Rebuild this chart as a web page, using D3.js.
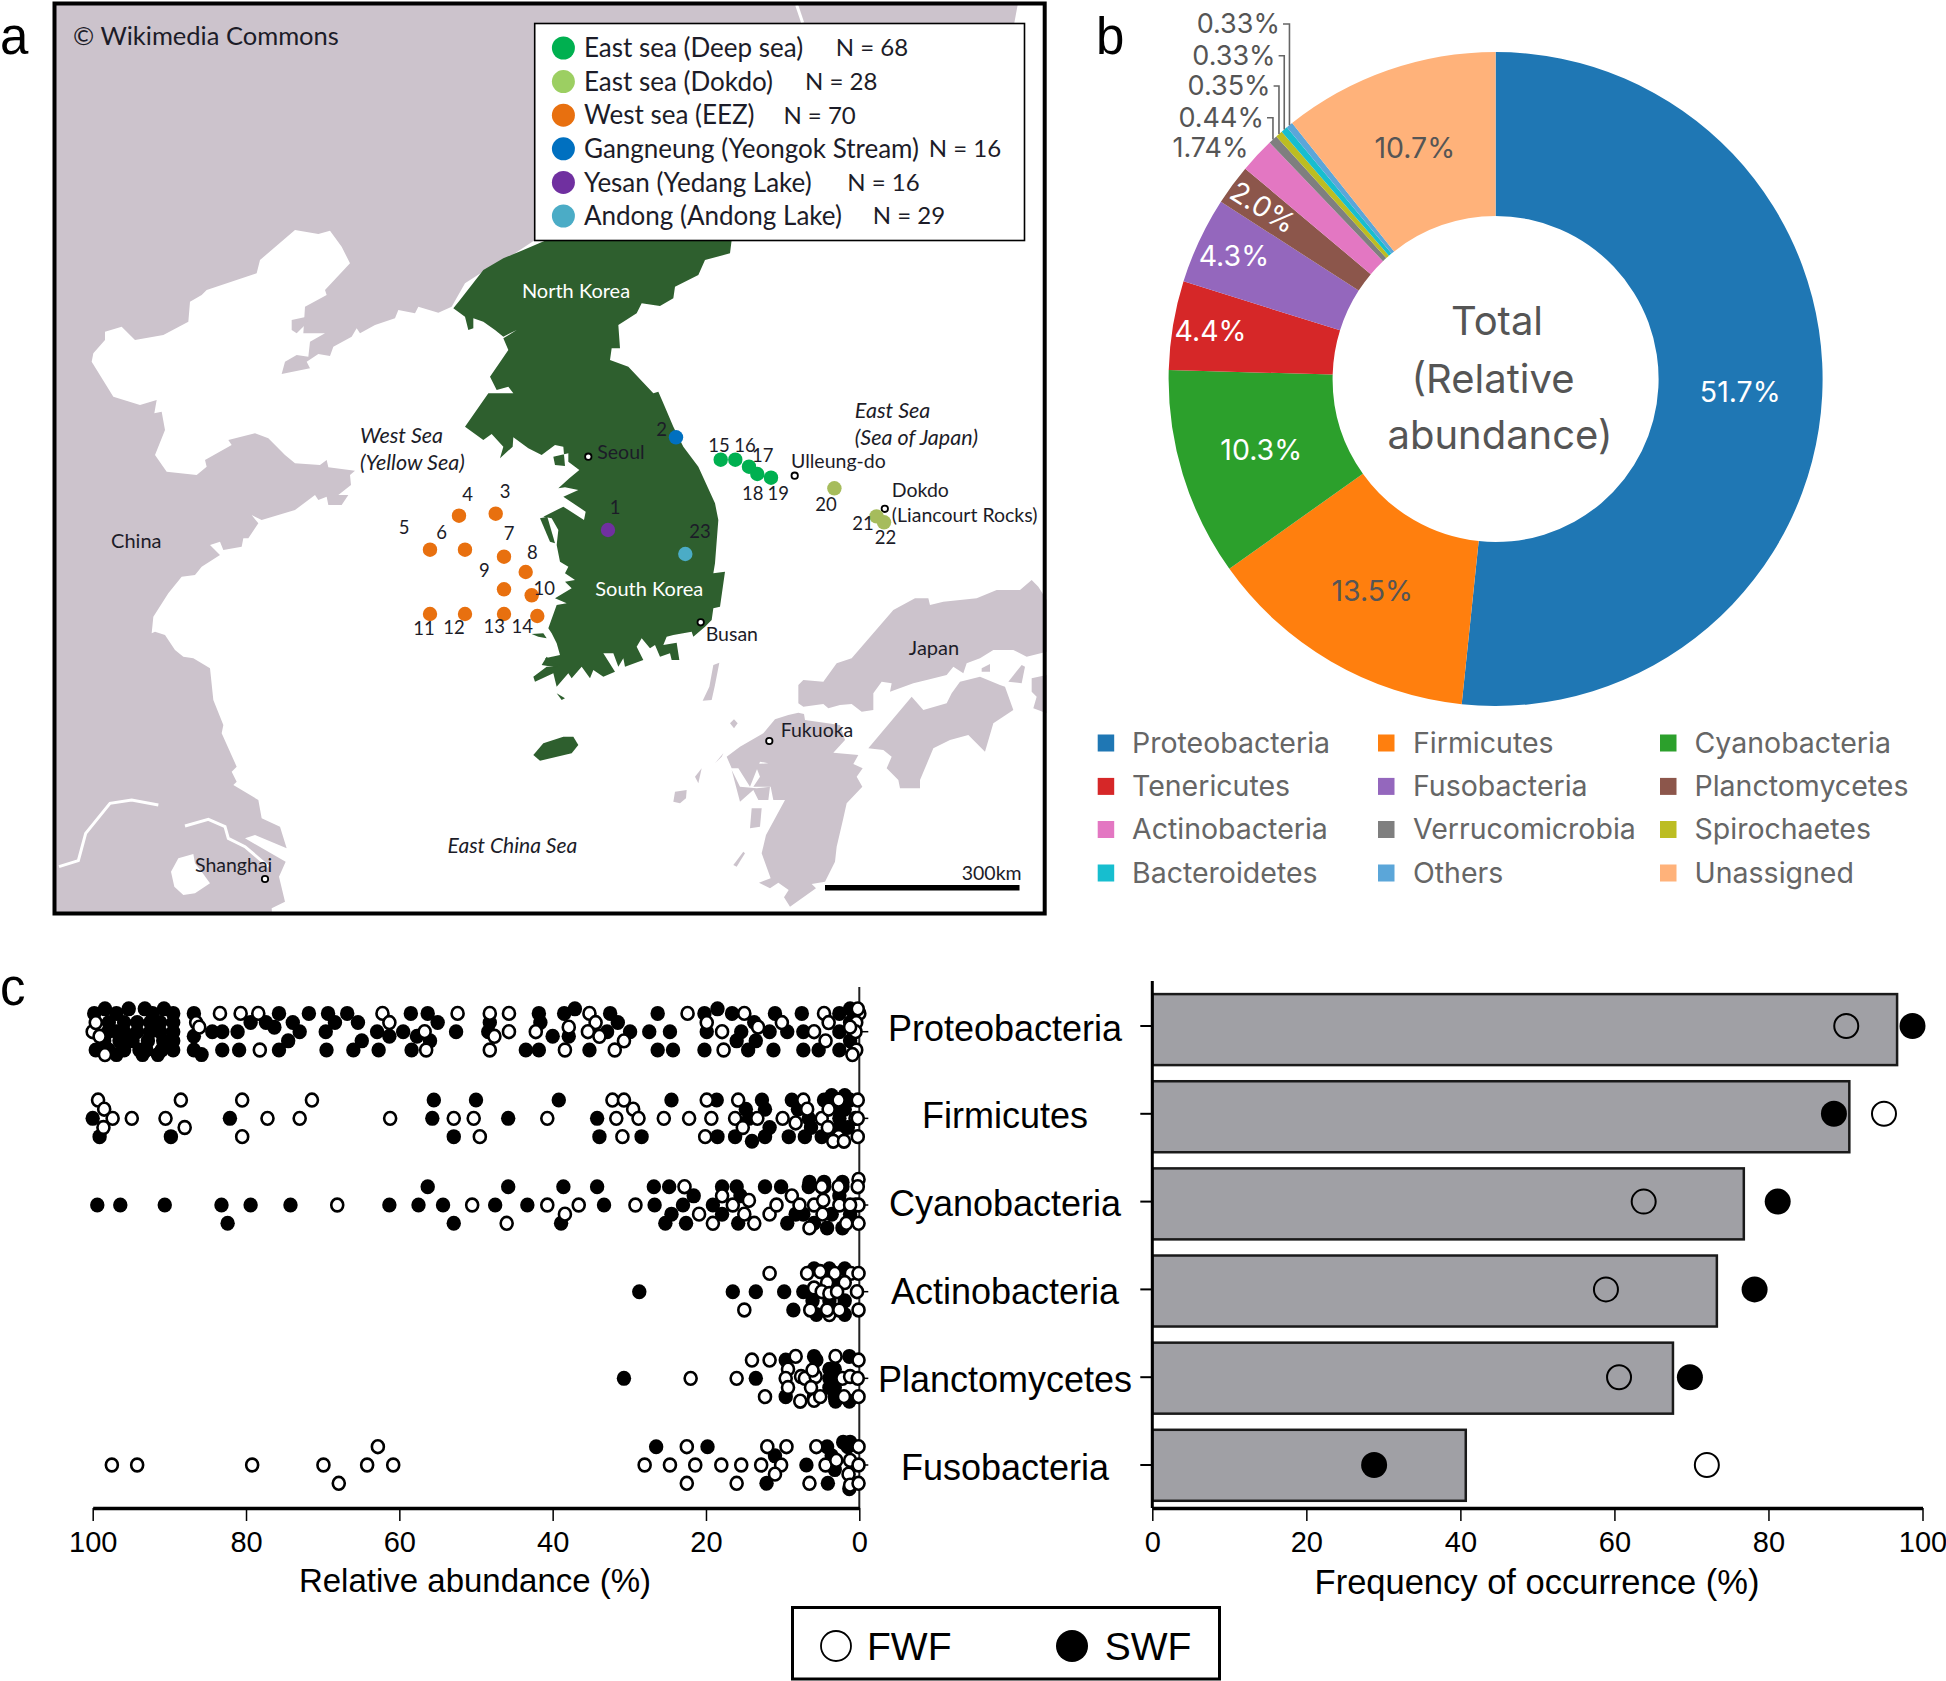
<!DOCTYPE html>
<html>
<head>
<meta charset="utf-8">
<title>Microbial communities of Korean seawater and freshwater fish</title>
<script src="https://cdn.jsdelivr.net/npm/d3@7"></script>
<style>
    html, body { margin: 0; padding: 0; background: #ffffff; }
    svg { display: block; }
    .map text { font-family: Lato, "Noto Sans", sans-serif; fill: #1c1c28; }
    .donut text { font-family: Inter, Roboto, sans-serif; font-weight: 400; }
    .plots text { font-family: "Liberation Sans", Arial, sans-serif; fill: #000000; }
    .tag { font-family: "Liberation Sans", Arial, sans-serif; font-size: 51px; fill: #000000; }
</style>
</head>
<body>
<div id="chart"></div>
<script>
//panel a: legend groups and sampling sites
var groupNames = ['East sea (Deep sea)', 'East sea (Dokdo)', 'West sea (EEZ)', 'Gangneung (Yeongok Stream)', 'Yesan (Yedang Lake)', 'Andong (Andong Lake)'];
var groupCounts = ['N = 68', 'N = 28', 'N = 70', 'N = 16', 'N = 16', 'N = 29'];
var groupColors = ['#00b050', '#9ccf62', '#e8700f', '#0070c0', '#7030a0', '#4bacc6'];
var siteColors = ['#00b050', '#a6bc5c', '#e8700f', '#0070c0', '#7030a0', '#4bacc6'];
var groupCountX = [835.7, 805, 783.4, 928.8, 847.2, 872.7];

//[site number, group index, x, y] in picture pixels of the base map
var sites = [
    ['1', 4, 608, 530], ['2', 3, 676, 437.3], ['3', 2, 495.7, 513.7], ['4', 2, 459, 515.7],
    ['5', 2, 430, 549.7], ['6', 2, 465, 549.7], ['7', 2, 504, 556.7], ['8', 2, 525.7, 572],
    ['9', 2, 504, 589.3], ['10', 2, 531.7, 595.3], ['11', 2, 430, 614], ['12', 2, 465, 614],
    ['13', 2, 504, 614], ['14', 2, 537.3, 616], ['15', 0, 720.7, 459.7], ['16', 0, 735.3, 459.7],
    ['17', 0, 749, 466.7], ['18', 0, 757.3, 474], ['19', 0, 771, 477.7], ['20', 1, 834.4, 488.3],
    ['21', 1, 876.5, 516.4], ['22', 1, 884, 522.3], ['23', 5, 685.3, 554]
];
var siteLabels = [
    ['1', 615, 507.3], ['2', 661.7, 430], ['3', 505, 491.7], ['4', 467.7, 495], ['5', 404, 528],
    ['6', 441.7, 532.7], ['7', 509, 534], ['8', 532.3, 552.3], ['9', 484.3, 570.7], ['10', 544.3, 588.3],
    ['11', 424, 629], ['12', 454, 627.7], ['13', 494.3, 626.7], ['14', 522.3, 626.7], ['15', 719, 446],
    ['16', 745, 446], ['17', 762.7, 455.3], ['18', 752.7, 494], ['19', 778.3, 494], ['20', 826, 504.7],
    ['21', 863, 524], ['22', 885.4, 538], ['23', 700, 531.7]
];
var cities = [
    ['Seoul', 588.3, 456.7, 597.3, 451.7], ['Ulleung-do', 794.7, 475.7, 791, 460.7],
    ['Dokdo', 884.8, 508.8, 891.8, 490], ['Busan', 700.7, 622.3, 705.7, 634],
    ['Fukuoka', 769.3, 741, 780.7, 730], ['Shanghai', 265, 879, 195, 865]
];

//panel b
var phyla = ['Proteobacteria', 'Firmicutes', 'Cyanobacteria', 'Tenericutes', 'Fusobacteria', 'Planctomycetes', 'Actinobacteria', 'Verrucomicrobia', 'Spirochaetes', 'Bacteroidetes', 'Others', 'Unassigned'];
var relAbundance = [51.7, 13.5, 10.3, 4.4, 4.3, 2.0, 1.74, 0.44, 0.35, 0.33, 0.33, 10.7];
var pctLabels = ['51.7%', '13.5%', '10.3%', '4.4%', '4.3%', '2.0%', '1.74%', '0.44%', '0.35%', '0.33%', '0.33%', '10.7%'];
var phylaColors = ['#1f77b4', '#ff7f0e', '#2ca02c', '#d62728', '#9467bd', '#8c564b', '#e377c2', '#7f7f7f', '#bcbd22', '#17becf', '#5ba6d9', '#ffb27a'];

//panel c
var topPhyla = ['Proteobacteria', 'Firmicutes', 'Cyanobacteria', 'Actinobacteria', 'Planctomycetes', 'Fusobacteria'];
var occurrence = [96.7, 90.5, 76.8, 73.3, 67.6, 40.7];
var occurrenceFWF = [90.1, 95, 63.8, 58.9, 60.6, 72];
var occurrenceSWF = [98.7, 88.5, 81.2, 78.2, 69.8, 28.8];
var xTicks = [0, 20, 40, 60, 80, 100];

//single samples: [relative abundance %, swarm lane]
var proteoSWF = [[99.8,1],[98.4,1.25],[96.9,1],[95.3,1.25],[93.2,1.25],[92.2,1],[90.7,1.25],[89.5,1],
    [97.9,.5],[95.9,.5],[94.2,.5],[92.5,.5],[91.2,.5],[89.5,.5],[98,0],[96.9,0],[95.9,0],[94.2,0],[92.5,0],[91.2,0],[89.5,0],
    [98.5,-.5],[96.5,-.5],[94.8,-.5],[92.8,-.5],[90.8,-.5],[89.5,-.5],[99.6,-1],[97.9,-1],[95.9,-1],[93.9,-1],[93,-1],[91,-1],[89.5,-1],
    [96.9,-1.25],[93.5,-1.25],[91.5,-1.25],[86.8,1],[84.4,0],[86.8,-.25],[86.8,-1],[85.8,-1.25],[83.1,0],[83.1,-1],[81.1,0],[80.9,-1],
    [79.4,.5],[77.4,.5],[76.3,.25],[75.7,1],[75.7,-1],[74.5,-.5],[73.9,.5],[73,0],[71.8,1],[69.6,0],[69.5,-1],[69.3,1],[68.4,.5],
    [66.8,1],[66,-1],[65.4,.5],[64.9,-.5],[62.9,0],[62.7,-1],[61.3,-.25],[59.5,0],[58.5,1],[58.4,-1],[57.7,-.25],[56.3,1],[56,-.5],[55,.5],
    [52.6,0],[48.2,.5],[48.4,0],[41.8,1],[41.6,.5],[43.5,-1],[41.8,-1],[40,-.25],[38.5,1],[37.1,1.25],[37.9,-.25],[35.2,-1],[32.5,1],[31.5,.5],
    [32.9,0],[29.9,0],[27.4,0],[26.3,1],[24.7,0],[26.3,-1],[24.3,-1],[20.2,1],[19.9,0],[20.2,-1],[18.5,1.25],[16.6,1],[15.4,0],[16,-.5],
    [14.5,-1],[13.7,.5],[13.5,-.5],[11.7,0],[11,1],[11.2,-1],[9.4,0],[7.5,1],[7.3,0],[7.3,-1],[5.3,-1],[2.6,1],[1.2,1.25],[2.6,0],[2.6,-1],[1.2,.5],[1.2,-.5]];
var proteoFWF = [[100,0],[99.1,-.25],[99.6,.5],[98.4,-1.25],[86.5,.5],[86.1,.25],[83.4,1],[80.7,1],[78.4,1],[78.2,-1],[62.2,1],[61.3,.5],[56.7,0],[56.5,-1],
    [52.4,1],[48.2,1],[45.7,1],[48.2,-1],[47.6,-.25],[45.7,0],[42.2,0],[38.4,-1],[37.9,.25],[35.2,1],[34.4,.5],[35.4,0],[33.9,-.25],[31.9,-1],[30.7,-.5],
    [22.4,1],[19.9,.5],[17.9,0],[17.7,-1],[15,1],[13.2,.25],[10.1,.5],[5.9,0],[4.4,-.5],[4.6,1],[4,.5],[0,1],[.4,.5],[.5,0],[1.2,.25],[.4,-1],[.9,-1.25],[.2,1.25]];
var firmiSWF = [[100,0],[99.1,-1],[89.8,-1],[82.1,0],[55.5,1],[55.7,0],[52.9,-1],[50,1],[45.8,0],[39.2,1],[34.2,0],[33.9,-1],[28.4,-1],[24.5,1],[18.6,1],[18.5,-1],[16.2,-1],
    [14,-1.25],[12.7,1],[14.8,.5],[12.3,.5],[11.7,-.5],[12.3,-1],[14.4,0],[9.2,-1],[7.1,-1],[8.8,1],[6.3,-.5],[8,.5],[6.6,0],[4.9,-1],[4.6,1],[3.6,1.25],[1.9,1.25],[2.6,.5],[2.6,0],[1.9,.5],[2.6,-.5],[1.5,-.5],[1.2,1]];
var firmiFWF = [[99.3,1],[98.5,.5],[97.4,0],[94.9,0],[98.6,-.5],[88.5,1],[90.5,0],[88,-.5],[80.5,1],[77.2,0],[80.5,-1],[73,0],[71.4,1],[61.2,0],[52.9,0],[50.3,0],[49.5,-1],[40.7,0],
    [32.2,1],[30.7,1],[29.5,.5],[31.7,0],[28.8,0],[30.9,-1],[25.5,0],[22.2,0],[19.3,0],[19.9,1],[20.1,-1],[15.8,1],[16.2,0],[15.2,-.5],[13.3,0],[10,0],[8.3,-.25],[7.3,1],[6.8,.5],
    [4.9,0],[4.1,-.5],[4,.5],[2.7,1],[2.7,-1],[3.4,-1.25],[2,-1.25],[.2,1],[.5,0],[.2,-1],[.2,0]];
var cyanoSWF = [[99.4,0],[96.4,0],[90.6,0],[83.2,0],[82.4,-1],[79.4,0],[74.2,0],[61.3,0],[56.3,1],[57.5,0],[54.3,0],[52.9,-1],[47.5,0],[45.8,1],[43.3,0],[38.9,-1],[38.6,1],[34.2,1],[33.3,0],
    [26.8,1],[24.8,1],[26.7,0],[23,0],[21.6,.5],[24.5,-.5],[25.3,-1],[22.6,-1],[19.1,0],[17.9,1],[16,1],[15.5,.5],[17.9,-.5],[15.8,-1],[12.3,1],[10.2,1],[9.4,-1],[8.3,-.5],[7.3,-.5],
    [6.5,1.25],[4.6,1.25],[2.2,1.25],[6.6,1],[4.6,1],[2.2,1],[5.9,-1],[4.2,-1.25],[2.2,-1.25],[3.6,-.5],[1.2,-.5],[2.6,.5]];
var cyanoFWF = [[68.1,0],[50.5,0],[46,-1],[40.7,0],[38.4,-.5],[36.6,0],[29.2,0],[22.8,1],[20.9,-.5],[19.1,-1],[17.9,.5],[16.5,0],[14.4,.25],[15,-.5],[13.7,-1],[11.7,-.5],[10.8,0],[8.8,.5],
    [7.8,0],[6.5,-1.25],[5.9,0],[4.7,.25],[4.8,-.5],[4.9,1],[2.7,1],[2.6,0],[1.7,-1],[.1,1.4],[.2,1],[.5,0],[.1,0],[.1,-1],[1.2,0]];
var actinoSWF = [[28.7,0],[16.5,0],[13.5,0],[9.8,0],[8.6,-1],[7.3,0],[5.9,1.25],[3.9,1.25],[1.9,1.25],[6.1,-.5],[5.6,-1.25],[1.9,-1.25],[3.9,-.5],[1.9,-.5],[3.2,.5]];
var actinoFWF = [[11.7,1],[15,-1],[6.8,1],[5.1,1.1],[3.2,1],[1.1,1],[.1,1],[4.2,.5],[5.9,.2],[1.9,.5],[4.9,0],[3.9,-.1],[2.9,0],[.3,0],[6.4,-1],[3.9,-1.25],[4.2,-1],[2.6,-1],[.1,-1]];
var planctoSWF = [[30.7,0],[13.5,0],[9.6,1],[9.6,-1],[5.9,1.2],[5.6,1],[1.3,1.2],[3.9,.5],[3.9,0],[3.9,-.5],[3.2,.5],[3.2,0],[3.2,-.5],[3.1,-1.25],[1.3,-1.25],[3.2,-1],[5.9,-1]];
var planctoFWF = [[22,0],[16,0],[14,1],[11.7,1],[12.3,-1],[8.3,1.2],[9.3,.5],[9.6,0],[9.3,-.5],[7.6,.1],[7.1,0],[5.7,.1],[6.1,.45],[6.3,-.5],[7.7,-1.25],[5.9,-1.2],[5.1,-1],[3.1,1.2],[2,-1],[2.2,0],[1.2,.1],[.2,0],[.1,1],[.1,-1]];
var fusoSWF = [[26.5,1],[19.8,1],[11,.5],[12.1,-1],[6.9,0],[4.2,1],[3.6,.5],[3.2,-.25],[4.1,-1],[2.1,1.25],[1.2,1.25],[1.5,1],[1.3,-1.3]];
var fusoFWF = [[97.5,0],[94.2,0],[79.2,0],[69.9,0],[67.9,-1],[64.2,0],[62.8,1],[60.8,0],[28,0],[24.7,0],[22.5,1],[21.4,0],[22.5,-1],[18,0],[15.4,0],[16,-1],[12.8,0],[12,1],[10.2,0],[9.5,1],[11,-.5],
    [6.5,-1],[5.6,1],[4.4,0],[3,.25],[1.4,-.5],[1.2,.25],[1.2,-1.1],[.1,1],[.1,0],[.1,-1]];
var swarmSWF = [proteoSWF, firmiSWF, cyanoSWF, actinoSWF, planctoSWF, fusoSWF];
var swarmFWF = [proteoFWF, firmiFWF, cyanoFWF, actinoFWF, planctoFWF, fusoFWF];

//base map outlines, traced per crop of the map: crop(left, top, points at 3x)
function crop(left, top, points){
    return points.map(function(p){ return [left + p[0] / 3, top + p[1] / 3]; });
}
var seaOutline = [[1046, 3], [1046, 914], [272, 914]].concat(
    crop(55, 600, [[650,925],[690,905],[672,830],[692,785],[570,715],[600,705],[695,745],[675,680],[620,655],[610,600],[535,555],[545,545],[530,515],[545,500],[500,400],[505,375],[475,300],[465,205],[415,175],[385,170],[360,150],[330,105],[300,95]]),
    crop(55, 230, [[290,1210],[295,1160],[340,1090],[380,1040],[420,1035],[440,1010],[495,975],[465,945],[495,935],[505,960],[560,950],[565,925],[580,925],[610,880],[590,855],[620,870],[720,840],[780,795],[790,810],[815,800],[820,825],[860,825],[880,795],[850,795],[888,765],[885,735],[900,722],[820,712],[815,690],[795,705],[720,700],[690,675],[640,625],[600,610],[520,630],[530,645],[450,690],[455,710],[425,735],[335,725],[300,675],[330,600],[320,545],[298,550],[305,510],[255,525],[175,500],[110,395],[115,370],[150,330],[150,305],[200,290],[240,330],[325,315],[400,275],[405,215],[440,195],[455,180],[605,130],[615,90],[685,30],[720,0],[790,12],[825,2],[860,50],[885,100],[810,180],[815,195],[750,230],[745,310],[810,310],[765,335],[760,380],[725,375],[690,395],[680,432],[765,415],[755,395],[790,372],[825,378],[835,350],[890,320],[905,295],[915,310],[960,285],[1020,265],[1030,240],[1080,250],[1090,230],[1150,248],[1190,230],[1230,160],[1300,115],[1380,70],[1440,30]]),
    [[800, 239], [1013, 30], [1018, 3]]
);
var landShapes = [
    crop(55, 230, [[710,270],[755,260],[750,285],[725,310],[710,300]]),
    //honshu
    crop(660, 560, [[415,375],[430,360],[490,365],[530,310],[575,295],[700,150],[765,115],[805,115],[810,135],[850,125],[950,115],[1010,90],[1080,90],[1115,60],[1135,80],[1160,120],[1160,275],[1100,290],[1060,270],[1000,270],[960,295],[920,310],[910,340],[880,320],[860,345],[800,360],[760,370],[690,395],[695,370],[665,365],[640,400],[640,450],[605,455],[575,432],[540,435],[505,445],[490,432],[430,440],[415,430]]),
    //kyushu
    crop(660, 560, [[310,520],[345,478],[385,465],[415,458],[432,462],[435,480],[540,495],[555,540],[520,578],[595,585],[580,612],[608,625],[590,650],[607,680],[560,730],[550,775],[530,860],[525,905],[495,965],[455,972],[468,985],[390,1040],[372,1012],[386,990],[355,968],[330,985],[297,968],[332,955],[305,880],[318,825],[375,720],[340,720],[332,680],[280,680],[300,650],[285,612],[325,610],[300,605],[270,680],[235,625],[215,625],[200,590],[240,560]]),
    crop(660, 560, [[215,630],[240,680],[290,685],[330,680],[325,720],[295,720],[280,690],[240,725]]),
    crop(660, 560, [[275,745],[305,745],[300,800],[270,805]]),
    //shikoku and smaller islands
    crop(660, 560, [[625,565],[755,410],[790,450],[860,430],[875,400],[900,365],[960,350],[1020,375],[1035,380],[1060,450],[1000,490],[975,575],[925,525],[870,540],[820,565],[780,660],[780,685],[720,685],[715,660],[695,640],[680,625],[695,590],[670,570]]),
    crop(660, 560, [[1045,365],[1085,315],[1095,320],[1085,370]]),
    crop(660, 560, [[1115,355],[1160,345],[1160,460],[1120,445],[1130,410],[1115,395]]),
    crop(660, 560, [[965,325],[990,312],[990,335],[965,335]]),
    crop(660, 560, [[160,315],[178,308],[165,375],[155,420],[128,422],[148,380]]),
    crop(660, 560, [[210,490],[222,478],[233,490],[222,505]]),
    crop(660, 560, [[40,725],[45,695],[80,690],[78,715],[60,730]]),
    crop(660, 560, [[105,650],[125,625],[115,670]]),
    crop(660, 560, [[165,610],[190,580],[185,590]]),
    crop(660, 560, [[220,915],[250,875],[255,880],[230,920]])
];
var koreaShapes = [
    crop(440, 230, [[320,30],[875,30],[870,70],[795,90],[775,135],[705,170],[700,205],[660,228],[605,220],[590,250],[535,285],[540,355],[515,355],[510,390],[565,410],[640,490],[655,485],[670,520],[700,590],[730,650],[775,710],[825,820],[835,870]])
    .concat(crop(440, 530, [[825,100],[820,130],[855,125],[840,230],[820,235],[815,270],[795,290],[760,320],[755,305],[700,315],[680,320],[670,345],[710,338],[718,390],[695,390],[690,370],[660,380],[645,345],[630,355],[605,325],[590,350],[610,390],[555,410],[550,385],[535,410],[520,370],[490,370],[525,425],[490,440],[460,420],[450,445],[425,410],[395,445],[385,430],[350,470],[340,430],[285,455],[280,440],[320,410],[345,410],[315,385],[360,375],[350,340],[335,310],[325,295],[350,225],[380,220],[345,205],[395,175],[375,155],[405,150],[375,130],[385,110],[360,95],[350,45]]))
    .concat(crop(440, 230, [[355,900],[335,865],[310,860],[370,830],[432,870],[437,845],[370,800],[415,780],[375,772],[355,775],[388,745],[418,720],[385,695],[385,670],[340,680],[345,705],[375,708],[370,650],[345,645],[305,675],[265,655],[220,622],[218,650],[180,685],[190,650],[155,612],[130,630],[75,590],[110,540],[145,490],[185,490],[220,490],[205,470],[170,480],[150,440],[205,360],[190,325],[230,300],[190,320],[165,300],[130,275],[100,265],[100,295],[85,300],[75,260],[40,235],[60,210],[130,120],[190,85],[250,60]])),
    //jeju
    crop(440, 530, [[280,675],[310,640],[370,620],[400,620],[415,645],[395,670],[300,692]]),
    crop(440, 230, [[300,865],[322,860],[345,940],[330,935]]),
    crop(440, 530, [[275,312],[310,310],[320,325],[295,320]]),
    crop(440, 530, [[305,405],[320,380],[340,400],[360,405],[345,412]]),
    crop(440, 530, [[350,490],[375,505],[365,510]])
];
//white rivers and bays
var riverLines = [
    crop(55, 600, [[12,800],[70,782],[92,700],[165,610],[230,600],[310,615]]),
    crop(55, 600, [[390,678],[460,658],[510,680],[520,715],[570,740],[640,800]]),
    crop(690, 0, [[320,15],[338,68]])
];
var hangzhouBay = crop(55, 600, [[348,815],[370,775],[415,762],[420,790],[440,815],[465,850],[420,880],[385,885],[358,860]]);

//main svg
var svg = d3.select('#chart').append('svg')
    .attr('width', 1946)
    .attr('height', 1681);

var polygon = d3.line().curve(d3.curveLinearClosed);

function drawMap(){
    var map = svg.append('g').attr('class', 'map');

    map.append('rect')
        .attr('x', 54).attr('y', 3)
        .attr('width', 991).attr('height', 911)
        .attr('fill', '#ccc3cc');
    map.append('path').attr('d', polygon(seaOutline)).attr('fill', '#ffffff');
    map.append('path').attr('d', polygon(hangzhouBay)).attr('fill', '#ffffff');
    map.selectAll('.river').data(riverLines).enter().append('path')
        .attr('class', 'river')
        .attr('d', d3.line())
        .attr('fill', 'none')
        .attr('stroke', '#ffffff')
        .attr('stroke-width', 3);
    map.selectAll('.land').data(landShapes).enter().append('path')
        .attr('class', 'land')
        .attr('d', polygon)
        .attr('fill', '#ccc3cc');
    map.selectAll('.korea').data(koreaShapes).enter().append('path')
        .attr('class', 'korea')
        .attr('d', polygon)
        .attr('fill', '#2e5f2e');

    //cities
    map.selectAll('.city').data(cities).enter().append('circle')
        .attr('class', 'city')
        .attr('cx', function(d){ return d[1]; })
        .attr('cy', function(d){ return d[2]; })
        .attr('r', 3.2)
        .attr('fill', '#ffffff')
        .attr('stroke', '#000000')
        .attr('stroke-width', 1.8);
    map.selectAll('.cityname').data(cities).enter().append('text')
        .attr('class', 'cityname')
        .attr('x', function(d){ return d[3]; })
        .attr('y', function(d){ return d[4]; })
        .attr('dy', '0.35em')
        .style('font-size', '19.5px')
        .text(function(d){ return d[0]; });
    map.append('text').attr('x', 891.8).attr('y', 515.3).attr('dy', '0.35em').style('font-size', '19.5px').text('(Liancourt Rocks)');

    //sites
    map.selectAll('.site').data(sites).enter().append('circle')
        .attr('class', 'site')
        .attr('cx', function(d){ return d[2]; })
        .attr('cy', function(d){ return d[3]; })
        .attr('r', 7.2)
        .attr('fill', function(d){ return siteColors[d[1]]; });
    map.selectAll('.sitelabel').data(siteLabels).enter().append('text')
        .attr('class', 'sitelabel')
        .attr('x', function(d){ return d[1]; })
        .attr('y', function(d){ return d[2]; })
        .attr('dy', '0.35em')
        .attr('text-anchor', 'middle')
        .style('font-size', '18.5px')
        .text(function(d){ return d[0]; });

    //names on the map
    var names = [
        ['North Korea', 576, 290.7, '#ffffff', 'normal', 20], ['South Korea', 649.3, 589.3, '#ffffff', 'normal', 20],
        ['Japan', 934, 648.3, '#1c1c28', 'normal', 20], ['China', 136.3, 541, '#1c1c28', 'normal', 20],
        ['East China Sea', 512.4, 846, '#1c1c28', 'italic', 21]
    ];
    map.selectAll('.place').data(names).enter().append('text')
        .attr('class', 'place')
        .attr('x', function(d){ return d[1]; })
        .attr('y', function(d){ return d[2]; })
        .attr('dy', '0.35em')
        .attr('text-anchor', 'middle')
        .style('font-size', function(d){ return d[5] + 'px'; })
        .style('font-style', function(d){ return d[4]; })
        .style('fill', function(d){ return d[3]; })
        .text(function(d){ return d[0]; });
    [['West Sea', 360, 435.7], ['(Yellow Sea)', 360, 462.3], ['East Sea', 854.8, 410.8], ['(Sea of Japan)', 854.8, 437.8]].forEach(function(d){
        map.append('text').attr('x', d[1]).attr('y', d[2]).attr('dy', '0.35em')
            .style('font-size', '21.5px').style('font-style', 'italic').text(d[0]);
    });

    map.append('text').attr('x', 73).attr('y', 36.4).attr('dy', '0.35em').style('font-size', '25.5px').text('\u00a9 Wikimedia Commons');

    //scale bar
    map.append('rect').attr('x', 825).attr('y', 885).attr('width', 194.5).attr('height', 5.5).attr('fill', '#000000');
    map.append('text').attr('x', 991.7).attr('y', 872.7).attr('dy', '0.35em').attr('text-anchor', 'middle').style('font-size', '19.5px').text('300km');

    //legend
    var legend = map.append('g');
    legend.append('rect')
        .attr('x', 534.7).attr('y', 23.5)
        .attr('width', 489.8).attr('height', 217)
        .attr('fill', '#ffffff')
        .attr('stroke', '#000000')
        .attr('stroke-width', 1.6);
    var legendY = d3.scalePoint().domain(groupNames).range([48, 216]);
    groupNames.forEach(function(name, i){
        legend.append('circle')
            .attr('cx', 563.4).attr('cy', legendY(name))
            .attr('r', 11.5)
            .attr('fill', groupColors[i]);
        legend.append('text')
            .attr('x', 584).attr('y', legendY(name)).attr('dy', '0.35em')
            .style('font-size', '26px')
            .text(name);
        legend.append('text')
            .attr('x', groupCountX[i]).attr('y', legendY(name)).attr('dy', '0.35em')
            .style('font-size', '24px')
            .text(groupCounts[i]);
    });

    //frame
    map.append('rect')
        .attr('x', 54.5).attr('y', 3.5)
        .attr('width', 990.2).attr('height', 910)
        .attr('fill', 'none')
        .attr('stroke', '#000000')
        .attr('stroke-width', 4);
}

function drawDonut(){
    var cx = 1495.6;
    var cy = 379;
    var outer = 327;
    var inner = 163;
    var donut = svg.append('g').attr('class', 'donut');
    var plot = donut.append('g').attr('transform', 'translate(' + cx + ',' + cy + ')');

    var slices = d3.pie().sort(null).value(function(d){ return d; })(relAbundance);
    var arc = d3.arc().innerRadius(inner).outerRadius(outer);
    var farArc = d3.arc().innerRadius(289).outerRadius(289);

    plot.selectAll('.slice').data(slices).enter().append('path')
        .attr('class', 'slice')
        .attr('d', arc)
        .attr('fill', function(d, i){ return phylaColors[i]; });

    //labels inside the ring
    var inside = [0, 1, 2, 3, 4, 5, 11];
    inside.forEach(function(i){
        var narrow = i >= 3 && i <= 5;
        var c = narrow ? farArc.centroid(slices[i]) : arc.centroid(slices[i]);
        plot.append('text')
            .attr('transform', 'translate(' + c[0] + ',' + c[1] + ')' + (i === 5 ? ' rotate(32)' : ''))
            .attr('dy', '0.35em')
            .attr('text-anchor', 'middle')
            .style('font-size', '28.5px')
            .style('fill', (i === 1 || i === 11) ? '#555555' : '#ffffff')
            .text(pctLabels[i]);
    });

    //leaders for the very small slices, text ends at labelEnd
    var labelEnd = {6: 1248.5, 7: 1264, 8: 1270.6, 9: 1275.6, 10: 1280};
    var labelY = {6: 148, 7: 117.7, 8: 86, 9: 55.7, 10: 24};
    [6, 7, 8, 9, 10].forEach(function(i){
        donut.append('text')
            .attr('x', labelEnd[i]).attr('y', labelY[i]).attr('dy', '0.35em')
            .attr('text-anchor', 'end')
            .style('font-size', '27px')
            .style('fill', '#555555')
            .text(pctLabels[i]);
        if(i === 6) return;
        var mid = (slices[i].startAngle + slices[i].endAngle) / 2;
        var lx = cx + outer * Math.sin(mid);
        var ly = cy - outer * Math.cos(mid);
        donut.append('path')
            .attr('d', d3.line()([[labelEnd[i] + 3, labelY[i]], [lx, labelY[i]], [lx, ly]]))
            .attr('fill', 'none')
            .attr('stroke', '#666666')
            .attr('stroke-width', 1.6);
    });

    //center text
    [['Total', 1497, 321], ['(Relative', 1493, 379], ['abundance)', 1500, 434.6]].forEach(function(d){
        donut.append('text')
            .attr('x', d[1]).attr('y', d[2]).attr('dy', '0.35em')
            .attr('text-anchor', 'middle')
            .style('font-size', '40px')
            .style('fill', '#555555')
            .text(d[0]);
    });

    //legend, three columns
    var squareX = [1097.7, 1378, 1660];
    var textX = [1132, 1413, 1694.5];
    var rowY = [743, 786.4, 829.5, 873];
    phyla.forEach(function(name, i){
        var col = i % 3;
        var row = Math.floor(i / 3);
        donut.append('rect')
            .attr('x', squareX[col]).attr('y', rowY[row] - 8.5)
            .attr('width', 16.5).attr('height', 17)
            .attr('fill', phylaColors[i]);
        donut.append('text')
            .attr('x', textX[col]).attr('y', rowY[row]).attr('dy', '0.35em')
            .style('font-size', '28.5px')
            .style('fill', '#666666')
            .text(name);
    });
}

function styleAxis(axisGroup){
    axisGroup.select('.domain').attr('stroke', '#000000').attr('stroke-width', 3.5);
    axisGroup.selectAll('.tick line').attr('stroke', '#000000').attr('stroke-width', 1.5);
    axisGroup.selectAll('.tick text')
        .style('font-size', '29px')
        .style('font-family', '"Liberation Sans", Arial, sans-serif')
        .attr('y', 19)
        .attr('dy', '0.85em');
}

function drawPlots(){
    var plots = svg.append('g').attr('class', 'plots');
    var axisY = 1508;

    //left: every sample of each phylum
    var xLeft = d3.scaleLinear().domain([100, 0]).range([92.7, 859.3]);
    var rowLeft = d3.scalePoint().domain(topPhyla).range([1031.7, 1465]);
    var laneStep = 18.3;

    plots.append('line')
        .attr('x1', xLeft(0)).attr('x2', xLeft(0))
        .attr('y1', 987).attr('y2', axisY)
        .attr('stroke', '#222222')
        .attr('stroke-width', 2);
    topPhyla.forEach(function(name){
        plots.append('line')
            .attr('x1', xLeft(0)).attr('x2', xLeft(0) + 9)
            .attr('y1', rowLeft(name)).attr('y2', rowLeft(name))
            .attr('stroke', '#000000')
            .attr('stroke-width', 1.5);
    });

    topPhyla.forEach(function(name, i){
        var row = plots.append('g');
        row.selectAll('.swf').data(swarmSWF[i]).enter().append('ellipse')
            .attr('class', 'swf')
            .attr('cx', function(d){ return xLeft(d[0]); })
            .attr('cy', function(d){ return rowLeft(name) - d[1] * laneStep; })
            .attr('rx', 7.2).attr('ry', 7.5)
            .attr('fill', '#000000');
        row.selectAll('.fwf').data(swarmFWF[i]).enter().append('ellipse')
            .attr('class', 'fwf')
            .attr('cx', function(d){ return xLeft(d[0]); })
            .attr('cy', function(d){ return rowLeft(name) - d[1] * laneStep; })
            .attr('rx', 6).attr('ry', 6.4)
            .attr('fill', '#ffffff')
            .attr('stroke', '#000000')
            .attr('stroke-width', 2.6);
    });

    var leftAxis = plots.append('g')
        .attr('transform', 'translate(0,' + axisY + ')')
        .call(d3.axisBottom(xLeft).tickValues(xTicks).tickSize(13).tickSizeOuter(0).tickFormat(d3.format('d')));
    styleAxis(leftAxis);

    //right: frequency of occurrence
    var xRight = d3.scaleLinear().domain([0, 100]).range([1152.3, 1922.5]);
    var rowBar = d3.scalePoint().domain(topPhyla).range([1029.6, 1465.3]);
    var rowDot = d3.scalePoint().domain(topPhyla).range([1026, 1465]);

    //category names between the two plots
    plots.selectAll('.phylum').data(topPhyla).enter().append('text')
        .attr('class', 'phylum')
        .attr('x', 1005)
        .attr('y', function(d){ return rowDot(d) + 2; })
        .attr('dy', '0.35em')
        .attr('text-anchor', 'middle')
        .style('font-size', '36px')
        .text(function(d){ return d; });

    plots.selectAll('.bar').data(topPhyla).enter().append('rect')
        .attr('class', 'bar')
        .attr('x', xRight(0))
        .attr('y', function(d){ return rowBar(d) - 35.5; })
        .attr('width', function(d, i){ return xRight(occurrence[i]) - xRight(0); })
        .attr('height', 71)
        .attr('fill', '#a0a0a5')
        .attr('stroke', '#1a1a1a')
        .attr('stroke-width', 2.5);

    plots.selectAll('.freqswf').data(topPhyla).enter().append('circle')
        .attr('class', 'freqswf')
        .attr('cx', function(d, i){ return xRight(occurrenceSWF[i]); })
        .attr('cy', function(d){ return rowDot(d); })
        .attr('r', 13)
        .attr('fill', '#000000');
    plots.selectAll('.freqfwf').data(topPhyla).enter().append('circle')
        .attr('class', 'freqfwf')
        .attr('cx', function(d, i){ return xRight(occurrenceFWF[i]); })
        .attr('cy', function(d){ return rowDot(d); })
        .attr('r', 12)
        .attr('fill', function(d, i){ return occurrenceFWF[i] < occurrence[i] ? 'none' : '#ffffff'; })
        .attr('stroke', '#000000')
        .attr('stroke-width', 2);

    var rightAxis = plots.append('g')
        .attr('transform', 'translate(0,' + axisY + ')')
        .call(d3.axisBottom(xRight).tickValues(xTicks).tickSize(13).tickSizeOuter(0).tickFormat(d3.format('d')));
    styleAxis(rightAxis);

    plots.append('line')
        .attr('x1', xRight(0)).attr('x2', xRight(0))
        .attr('y1', 981).attr('y2', axisY)
        .attr('stroke', '#000000')
        .attr('stroke-width', 3);
    topPhyla.forEach(function(name){
        plots.append('line')
            .attr('x1', xRight(0) - 12).attr('x2', xRight(0))
            .attr('y1', rowDot(name)).attr('y2', rowDot(name))
            .attr('stroke', '#000000')
            .attr('stroke-width', 2);
    });

    //axis titles
    plots.append('text').attr('x', 475).attr('y', 1580).attr('dy', '0.35em').attr('text-anchor', 'middle')
        .style('font-size', '33px').text('Relative abundance (%)');
    plots.append('text').attr('x', 1537).attr('y', 1582).attr('dy', '0.35em').attr('text-anchor', 'middle')
        .style('font-size', '34.5px').text('Frequency of occurrence (%)');

    //FWF / SWF box
    plots.append('rect')
        .attr('x', 792.5).attr('y', 1607.5)
        .attr('width', 427).attr('height', 71.5)
        .attr('fill', '#ffffff')
        .attr('stroke', '#000000')
        .attr('stroke-width', 3);
    plots.append('circle').attr('cx', 836).attr('cy', 1646).attr('r', 15)
        .attr('fill', '#ffffff').attr('stroke', '#000000').attr('stroke-width', 1.8);
    plots.append('text').attr('x', 867).attr('y', 1646).attr('dy', '0.35em').style('font-size', '39px').text('FWF');
    plots.append('circle').attr('cx', 1072).attr('cy', 1646).attr('r', 16).attr('fill', '#000000');
    plots.append('text').attr('x', 1104.7).attr('y', 1646).attr('dy', '0.35em').style('font-size', '39px').text('SWF');
}

drawMap();
drawDonut();
drawPlots();

//panel letters
[['a', 0, 54], ['b', 1096, 54], ['c', 0, 1005]].forEach(function(d){
    svg.append('text').attr('class', 'tag').attr('x', d[1]).attr('y', d[2]).text(d[0]);
});
</script>
</body>
</html>
